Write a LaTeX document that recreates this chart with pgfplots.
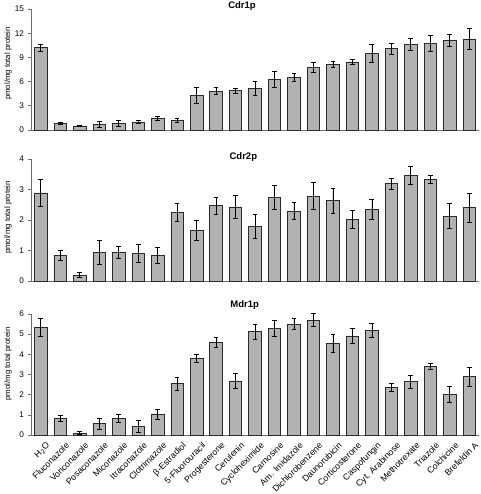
\documentclass[border=0pt]{standalone}
\usepackage{pgfplots}
\pgfplotsset{compat=1.18}
\usepackage{pgfplotstable}
\usepackage{fontspec}
\setmainfont{Liberation Sans}
\definecolor{barfill}{HTML}{B2B2B2}
\definecolor{baredge}{HTML}{2A2A2A}
\definecolor{axcol}{HTML}{707070}

\pgfplotstableread{
x y e
1 10.2 0.40
2 0.83 0.10
3 0.50 0.10
4 0.70 0.36
5 0.78 0.36
6 1.00 0.17
7 1.45 0.22
8 1.20 0.22
9 4.30 1.00
10 4.83 0.45
11 4.88 0.30
12 5.17 0.85
13 6.28 1.05
14 6.53 0.45
15 7.73 0.60
16 8.14 0.35
17 8.43 0.30
18 9.46 1.10
19 10.08 0.65
20 10.62 0.70
21 10.74 1.00
22 11.12 0.75
23 11.28 1.28
}\cdrone

\pgfplotstableread{
x y e
1 2.89 0.44
2 0.84 0.17
3 0.19 0.08
4 0.94 0.40
5 0.94 0.20
6 0.91 0.29
7 0.84 0.25
8 2.25 0.31
9 1.65 0.33
10 2.47 0.27
11 2.43 0.37
12 1.79 0.38
13 2.74 0.39
14 2.30 0.28
15 2.78 0.44
16 2.64 0.41
17 2.03 0.30
18 2.36 0.33
19 3.20 0.18
20 3.46 0.30
21 3.33 0.13
22 2.13 0.40
23 2.40 0.47
}\cdrtwo

\pgfplotstableread{
x y e
1 5.34 0.43
2 0.83 0.15
3 0.10 0.07
4 0.56 0.26
5 0.81 0.20
6 0.43 0.30
7 1.01 0.25
8 2.55 0.32
9 3.80 0.18
10 4.60 0.25
11 2.68 0.37
12 5.12 0.38
13 5.27 0.40
14 5.50 0.28
15 5.69 0.32
16 4.55 0.43
17 4.91 0.36
18 5.17 0.35
19 2.36 0.18
20 2.64 0.31
21 3.39 0.15
22 2.03 0.40
23 2.89 0.46
}\mdrone

\pgfplotsset{
  panel/.style={
    scale only axis,
    width=448pt,
    xmin=0.5, xmax=23.5,
    ymin=0,
    axis x line*=bottom,
    axis y line*=left,
    axis line style={axcol, line width=0.6pt},
    every tick/.style={axcol, line width=0.6pt},
    tick align=outside,
    major tick length=3pt,
    minor tick length=3pt,
    xtick={1,...,23},
    minor xtick={0.5,1.5,...,23.5},
    xtick style={draw=none},
    minor x tick style={axcol, line width=0.6pt},
    xticklabels={},
    ticklabel style={font=\fontsize{8.2}{9}\selectfont},
    /pgf/number format/assume math mode=true,
    yticklabel style={xshift=-0.5pt},
    title style={font=\fontsize{9.5}{11}\bfseries, anchor=center},
    ylabel style={font=\fontsize{7.8}{9}\selectfont, anchor=center, rotate=0},
    clip=false,
  },
  bars/.style={
    ybar, bar width=12.5pt, fill=barfill, draw=baredge, line width=0.6pt,
    error bars/.cd, y dir=both, y explicit,
    error bar style={line width=0.7pt, black},
    error mark options={rotate=90, mark size=2.4pt, line width=0.7pt, black},
  },
}

\begin{document}
\begin{tikzpicture}
% panel 1
\begin{axis}[panel,
  at={(31pt,364pt)}, anchor=south west,
  height=121pt, ymax=15, ytick={0,3,...,15},
  title={Cdr1p}, title style={at={(0.471,1)}, yshift=-3pt},
  ylabel={pmol/mg total protein}, ylabel style={at={(axis description cs:-0.051,0.55)}},
]
\addplot[bars] table[x=x, y=y, y error=e] {\cdrone};
\end{axis}
% panel 2
\begin{axis}[panel,
  at={(31pt,213pt)}, anchor=south west,
  height=122pt, ymax=4, ytick={0,1,...,4},
  title={Cdr2p}, title style={at={(0.474,1)}, yshift=-4pt},
  ylabel={pmol/mg total protein}, ylabel style={at={(axis description cs:-0.051,0.52)}},
]
\addplot[bars] table[x=x, y=y, y error=e] {\cdrtwo};
\end{axis}
% panel 3
\begin{axis}[panel,
  at={(31pt,59pt)}, anchor=south west,
  height=121pt, ymax=6, ytick={0,1,...,6},
  title={Mdr1p}, title style={at={(0.477,1)}, yshift=2.5pt},
  ylabel={pmol/mg total protein}, ylabel style={at={(axis description cs:-0.051,0.587)}},
  xticklabels={H\textsubscript{2}O, Fluconazole, Voriconazole, Posaconazole, Miconazole, Itraconazole, Clotrimazole, β-Estradiol, 5-Fluorouracil, Progesterone, Cerulenin, Cycloheximide, Carnosine, Am. Imidazole, Dichlorobenzene, Daunorubicin, Corticosterone, Caspofungin, Cyt. Arabinose, Methotrexate, Triazole, Colchicine, Brefeldin A},
  xticklabel style={anchor=north east, xshift=5pt, yshift=-2pt, rotate=45, font=\fontsize{8.8}{10}\selectfont, inner sep=1pt},
]
\addplot[bars] table[x=x, y=y, y error=e] {\mdrone};
\end{axis}
\pgfresetboundingbox
\useasboundingbox (0,0) rectangle (480pt,494pt);
\end{tikzpicture}
\end{document}
